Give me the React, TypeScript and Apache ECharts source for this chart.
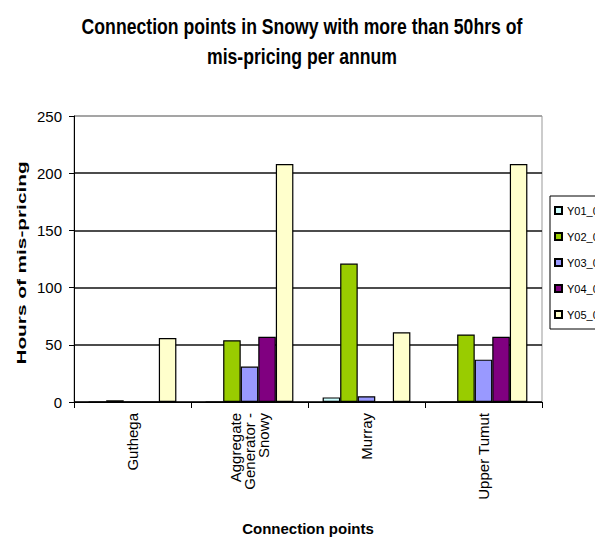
import React, { useEffect, useRef } from "react";
import * as echarts from "echarts";

const categories = ["Guthega", "Aggregate\nGenerator -\nSnowy", "Murray", "Upper Tumut"];
const seriesNames = ["Y01_02", "Y02_03", "Y03_04", "Y04_05", "Y05_06"];
const seriesColors = ["#CCFFFF", "#99CC00", "#9999FF", "#800080", "#FFFFCC"];
const y01 = [0, 0, 4, 0];
const y02 = [1.5, 54, 121, 59];
const y03 = [0, 31, 5, 37];
const y04 = [0, 57, 0, 57];
const y05 = [56, 208, 61, 208];
const seriesValues = [y01, y02, y03, y04, y05];
const yTicks = { min: 0, max: 250, interval: 50 };
const titleText = "Connection points in Snowy with more than 50hrs of\nmis-pricing per annum";
const yName = "Hours of mis-pricing";
const xName = "Connection points";

const FONT = "'Liberation Sans', Arial, sans-serif";

export default function App() {
  const ref = useRef<HTMLDivElement>(null);
  useEffect(() => {
    const chart = echarts.init(ref.current!, null, { renderer: "svg" });
    chart.setOption({
      animation: false,
      backgroundColor: "#ffffff",
      graphic: [
        {
          type: "text",
          x: 302,
          y: 11,
          scaleX: 0.98,
          scaleY: 1.22,
          style: {
            text: titleText,
            align: "center",
            verticalAlign: "top",
            fontFamily: FONT,
            fontWeight: "bold",
            fontSize: 18,
            lineHeight: 25,
            fill: "#000",
          },
        },
        {
          type: "text",
          x: 22,
          y: 263,
          rotation: Math.PI / 2,
          scaleX: 1.6,
          scaleY: 1,
          style: {
            text: yName,
            align: "center",
            verticalAlign: "middle",
            fontFamily: FONT,
            fontWeight: "bold",
            fontSize: 13,
            fill: "#000",
          },
        },
      ],
      legend: {
        orient: "vertical",
        left: 550,
        top: 196,
        width: 80,
        itemWidth: 7,
        itemHeight: 7,
        itemGap: 15,
        itemTextGap: 3,
        padding: [9, 20, 9, 4],
        borderColor: "#000",
        borderWidth: 1,
        icon: "rect",
        textStyle: { fontFamily: FONT, fontSize: 11, color: "#000" },
        data: seriesNames,
      },
      grid: {
        left: 74,
        right: 53,
        top: 116,
        bottom: 137,
        outerBoundsMode: "none",
        show: true,
        borderColor: "#999",
        borderWidth: 1,
      },
      xAxis: {
        type: "category",
        data: categories,
        name: xName,
        nameLocation: "middle",
        nameGap: 119,
        nameTextStyle: { fontFamily: FONT, fontWeight: "bold", fontSize: 15, color: "#000" },
        axisLine: { lineStyle: { color: "#000", width: 1 } },
        axisTick: { show: true, length: 6, lineStyle: { color: "#000" } },
        axisLabel: {
          rotate: 90,
          fontFamily: FONT,
          fontSize: 15,
          color: "#000",
          margin: 11,
          lineHeight: 14,
          interval: 0,
        },
      },
      yAxis: {
        type: "value",
        min: yTicks.min,
        max: yTicks.max,
        interval: yTicks.interval,
        axisLine: { show: true, lineStyle: { color: "#000", width: 1 } },
        axisTick: { show: true, length: 5, lineStyle: { color: "#000" } },
        axisLabel: { fontFamily: FONT, fontSize: 15, color: "#000", margin: 12 },
        splitLine: {
          show: true,
          lineStyle: { color: ["#000", "#111", "#111", "#111", "#111", "#999"], width: 1.5 },
        },
      },
      series: seriesNames.map((name, i) => ({
        name,
        type: "bar",
        data: seriesValues[i],
        barGap: "0%",
        barCategoryGap: "25%",
        itemStyle: { color: seriesColors[i], borderColor: "#000", borderWidth: 1.2 },
      })),
    });
    return () => chart.dispose();
  }, []);
  return (
    <div
      ref={ref}
      style={{ position: "fixed", left: 0, top: 0, width: 595, height: 539 }}
    />
  );
}
